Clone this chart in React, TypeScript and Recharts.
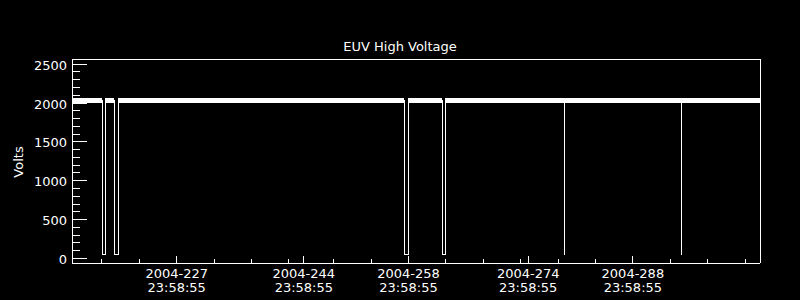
import React from 'react';
import { LineChart, Line, XAxis, YAxis } from 'recharts';

// x axis is day of year 2004, y axis is volts
const dayMin = 213;
const dayMax = 305;
const voltMin = -58;
const voltMax = 2566;

// the trace sits in a noisy band around ~2000-2055 V
const nominalVolts = 2027;

// drop-outs of the high voltage: start day, end day, lowest reading
const dropStart = [217.05, 218.65, 257.45, 262.53, 278.86, 294.51];
const dropEnd = [217.45, 219.2, 257.95, 262.93, 278.86, 294.51];
const dropVolts = [50, 50, 50, 50, 50, 50];

// labelled x ticks
const majorDays = [227, 244, 258, 274, 288];
const majorDates = ['2004-227', '2004-244', '2004-258', '2004-274', '2004-288'];
const majorTimes = ['23:58:55', '23:58:55', '23:58:55', '23:58:55', '23:58:55'];
const minorDays = [217, 222, 232, 237, 242, 248, 253, 263, 268, 273, 278, 283, 293, 298, 303];

const voltLabels = [0, 500, 1000, 1500, 2000, 2500];
const voltMinor = [100, 200, 300, 400, 600, 700, 800, 900, 1100, 1200, 1300, 1400, 1600, 1700, 1800, 1900, 2100, 2200, 2300, 2400];

const FONT = '"DejaVu Sans", sans-serif';

// thin trace: nominal level with the drop-outs
const trace: { day: number; volts: number }[] = [{ day: dayMin, volts: nominalVolts }];
dropStart.forEach((d, i) => {
  trace.push(
    { day: d, volts: nominalVolts },
    { day: d, volts: dropVolts[i] },
    { day: dropEnd[i], volts: dropVolts[i] },
    { day: dropEnd[i], volts: nominalVolts }
  );
});
trace.push({ day: dayMax, volts: nominalVolts });

// thick noise band, broken inside the wider drop-outs
const band: { day: number; volts: number | null }[] = [];
let from = dayMin;
dropStart.forEach((d, i) => {
  if (dropEnd[i] > d) {
    band.push({ day: from, volts: nominalVolts }, { day: d, volts: nominalVolts }, { day: d, volts: null });
    from = dropEnd[i];
  }
});
band.push({ day: from, volts: nominalVolts }, { day: dayMax, volts: nominalVolts });

const xTicks = [...majorDays, ...minorDays].sort((a, b) => a - b);
const yTicks = [...voltLabels, ...voltMinor].sort((a, b) => a - b);

const voltTick = (side: 'left' | 'right') => (props: any) => {
  const { x, y, payload } = props;
  const major = voltLabels.includes(payload.value);
  const len = major ? 15 : 8;
  const dir = side === 'left' ? 1 : -1;
  return (
    <g>
      <line x1={x} x2={x + dir * len} y1={y} y2={y} stroke="#fff" shapeRendering="crispEdges" />
      {side === 'left' && major && (
        <text x={x - 5} y={y + 5.5} textAnchor="end" fill="#fff" fontSize={13} fontFamily={FONT}>
          {payload.value}
        </text>
      )}
    </g>
  );
};

const dayTick = (side: 'top' | 'bottom') => (props: any) => {
  const { x, y, payload } = props;
  const idx = majorDays.indexOf(payload.value);
  const len = idx >= 0 ? 7 : 4;
  const dir = side === 'bottom' ? -1 : 1;
  return (
    <g>
      <line x1={x} x2={x} y1={y} y2={y + dir * len} stroke="#fff" shapeRendering="crispEdges" />
      {side === 'bottom' && idx >= 0 && (
        <text textAnchor="middle" fill="#fff" fontSize={13} fontFamily={FONT}>
          <tspan x={x} y={y + 15}>{majorDates[idx]}</tspan>
          <tspan x={x} y={y + 29}>{majorTimes[idx]}</tspan>
        </text>
      )}
    </g>
  );
};

const axisLine = { stroke: '#fff', shapeRendering: 'crispEdges' };

export default function App() {
  return (
    <div style={{ position: 'absolute', left: 0, top: 0, width: 800, height: 300, background: '#000', overflow: 'hidden' }}>
      <div
        style={{
          position: 'absolute', left: 0, top: 40, width: 800, textAlign: 'center',
          color: '#fff', fontFamily: FONT, fontSize: 13, lineHeight: '13px',
        }}
      >
        EUV High Voltage
      </div>
      <div
        style={{
          position: 'absolute', left: 18, top: 162, transform: 'translate(-50%, -50%) rotate(-90deg)',
          color: '#fff', fontFamily: FONT, fontSize: 13, lineHeight: '13px', whiteSpace: 'nowrap',
        }}
      >
        Volts
      </div>
      <LineChart width={800} height={300} margin={{ top: 58, right: 39, bottom: 36, left: 71 }}>
        <XAxis
          xAxisId="bottom"
          dataKey="day"
          type="number"
          domain={[dayMin, dayMax]}
          ticks={xTicks}
          interval={0}
          height={1}
          tickSize={0}
          tickMargin={0}
          axisLine={axisLine}
          tickLine={false}
          tick={dayTick('bottom')}
        />
        <XAxis
          xAxisId="top"
          orientation="top"
          dataKey="day"
          type="number"
          domain={[dayMin, dayMax]}
          ticks={xTicks}
          interval={0}
          height={1}
          tickSize={0}
          tickMargin={0}
          axisLine={axisLine}
          tickLine={false}
          tick={dayTick('top')}
        />
        <YAxis
          yAxisId="left"
          type="number"
          domain={[voltMin, voltMax]}
          ticks={yTicks}
          interval={0}
          width={1}
          tickSize={0}
          tickMargin={0}
          axisLine={axisLine}
          tickLine={false}
          tick={voltTick('left')}
        />
        <YAxis
          yAxisId="right"
          orientation="right"
          type="number"
          domain={[voltMin, voltMax]}
          ticks={yTicks}
          interval={0}
          width={1}
          tickSize={0}
          tickMargin={0}
          axisLine={axisLine}
          tickLine={false}
          tick={voltTick('right')}
        />
        <Line
          data={band}
          xAxisId="bottom"
          yAxisId="left"
          dataKey="volts"
          type="linear"
          stroke="#fff"
          strokeWidth={5}
          strokeLinecap="butt"
          dot={false}
          activeDot={false}
          connectNulls={false}
          isAnimationActive={false}
          shapeRendering="crispEdges"
        />
        <Line
          data={trace}
          xAxisId="bottom"
          yAxisId="left"
          dataKey="volts"
          type="linear"
          stroke="#fff"
          strokeWidth={1}
          dot={false}
          activeDot={false}
          isAnimationActive={false}
          shapeRendering="crispEdges"
        />
      </LineChart>
    </div>
  );
}
